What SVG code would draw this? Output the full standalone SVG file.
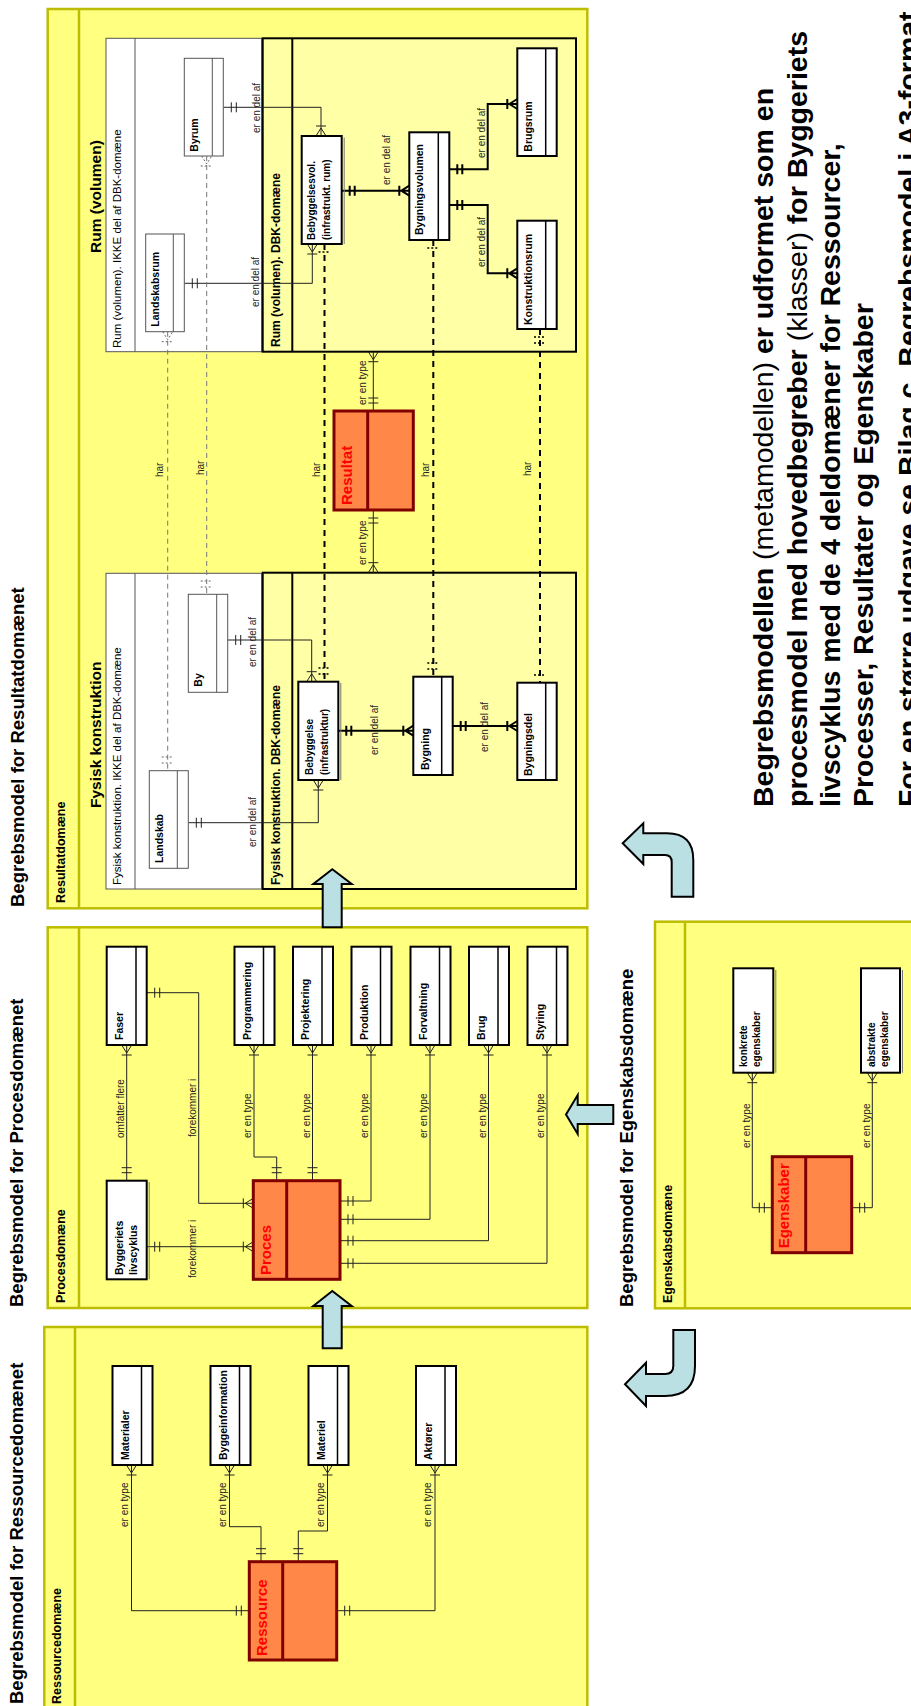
<svg xmlns="http://www.w3.org/2000/svg" width="911" height="1706" viewBox="0 0 911 1706">
<defs>
<style>
text{font-family:"Liberation Sans",Arial,sans-serif;fill:#000}
.panel{fill:#FFFF80;stroke:#BDBD00;stroke-width:2.5}
.sep{stroke:#BDBD00;stroke-width:2.5;fill:none}
.ikke{fill:#fff;stroke:#555;stroke-width:1}
.ikkesep{stroke:#555;stroke-width:1;fill:none}
.dbk{fill:#FFFFA6;stroke:#000;stroke-width:2}
.dbksep{stroke:#000;stroke-width:2;fill:none}
.ent{fill:#fff;stroke:#000;stroke-width:2}
.entg{fill:#fff;stroke:#555;stroke-width:1}
.div{stroke:#000;stroke-width:1.5;fill:none}
.divg{stroke:#555;stroke-width:1;fill:none}
.shad{stroke:#777;stroke-width:1;fill:none}
.core{fill:#FF8848;stroke:#800000;stroke-width:3}
.corediv{stroke:#800000;stroke-width:3;fill:none}
.c1{fill:none;stroke:#222;stroke-width:1}
.c2{fill:none;stroke:#000;stroke-width:2}
.d1{fill:none;stroke:#777;stroke-width:1;stroke-dasharray:5 4}
.d2{fill:none;stroke:#000;stroke-width:2;stroke-dasharray:6 5}
.mk{fill:none;stroke:#000;stroke-width:1.5;stroke-dasharray:2 2}
.mkg{fill:none;stroke:#666;stroke-width:1;stroke-dasharray:2 2}
.arrow{fill:#BBE0E3;stroke:#000;stroke-width:2;stroke-linejoin:miter}
.title{font-size:18.5px;font-weight:bold}
.dom{font-size:12.5px;font-weight:bold}
.sec{font-size:15.5px;font-weight:bold}
.sub{font-size:11.5px}
.subb{font-size:12px;font-weight:bold}
.nl{font-size:10.5px;font-weight:bold}
.ns{font-size:10px;font-weight:bold}
.big{font-size:15px;font-weight:bold;fill:#FF0000}
.lbl{font-size:10px;fill:#222}
.side{font-size:28.5px;font-weight:bold}
</style>
</defs>
<rect width="911" height="1706" fill="#fff"/>

<!-- Panels -->
<g id="panel-ressource">
<rect class="panel" x="44.3" y="1327" width="543" height="400"/>
<path class="sep" d="M75,1327 V1710"/>
<text class="dom" transform="translate(61,1704) rotate(-90)">Ressourcedomæne</text>
</g>
<g id="panel-proces">
<rect class="panel" x="47.7" y="927.3" width="539.6" height="380.7"/>
<path class="sep" d="M79,927.3 V1308"/>
<text class="dom" transform="translate(65,1303) rotate(-90)">Procesdomæne</text>
</g>
<g id="panel-resultat">
<rect class="panel" x="47.7" y="9" width="539.6" height="899.3"/>
<path class="sep" d="M79,9 V908.3"/>
<text class="dom" transform="translate(65,903) rotate(-90)">Resultatdomæne</text>
</g>
<g id="panel-egenskab">
<rect class="panel" x="655" y="921.7" width="270" height="386.6"/>
<path class="sep" d="M685,921.7 V1308.3"/>
<text class="dom" transform="translate(672,1303) rotate(-90)">Egenskabsdomæne</text>
</g>

<!-- Titles -->
<g id="titles">
<text class="title" transform="translate(23,1704) rotate(-90)">Begrebsmodel for Ressourcedomænet</text>
<text class="title" transform="translate(23,1307) rotate(-90)">Begrebsmodel for Procesdomænet</text>
<text class="title" transform="translate(24,907) rotate(-90)">Begrebsmodel for Resultatdomænet</text>
<text class="title" transform="translate(633,1307) rotate(-90)">Begrebsmodel for Egenskabsdomæne</text>
</g>

<!-- Sub frames in Resultat -->
<g id="frame-fysisk-ikke">
<rect class="ikke" x="106" y="573.3" width="155.7" height="315.7"/>
<path class="ikkesep" d="M135,573.3 V889"/>
<text class="sub" transform="translate(121,885) rotate(-90)">Fysisk konstruktion. IKKE del af DBK-domæne</text>
</g>
<g id="frame-fysisk-dbk">
<rect class="dbk" x="262.7" y="572.7" width="313.3" height="316.3"/>
<path class="dbksep" d="M292.3,572.7 V889"/>
<text class="subb" transform="translate(280,885) rotate(-90)">Fysisk konstruktion. DBK-domæne</text>
</g>
<text class="sec" transform="translate(101,808) rotate(-90)">Fysisk konstruktion</text>
<g id="frame-rum-ikke">
<rect class="ikke" x="106" y="38.3" width="155.7" height="313.4"/>
<path class="ikkesep" d="M135,38.3 V351.7"/>
<text class="sub" transform="translate(121,348) rotate(-90)">Rum (volumen). IKKE del af DBK-domæne</text>
</g>
<g id="frame-rum-dbk">
<rect class="dbk" x="262.7" y="38.3" width="313.3" height="313.4"/>
<path class="dbksep" d="M292.3,38.3 V351.7"/>
<text class="subb" transform="translate(280,347) rotate(-90)">Rum (volumen). DBK-domæne</text>
</g>
<text class="sec" transform="translate(101,253) rotate(-90)">Rum (volumen)</text>

<!-- Connectors -->
<g id="connectors">
<!-- Ressource -->
<path class="c1" d="M131.5,1465 V1610.7 H249.3 M126.5,1465 L131.5,1473 L136.5,1465 M126.5,1475 H136.5 M241.3,1605.7 V1615.7 M236.3,1605.7 V1615.7"/>
<path class="c1" d="M229.5,1465 V1526.7 H261 V1561.7 M224.5,1465 L229.5,1473 L234.5,1465 M224.5,1475 H234.5 M256,1553.7 H266 M256,1548.7 H266"/>
<path class="c1" d="M327.5,1465 V1531 H298.3 V1561.7 M322.5,1465 L327.5,1473 L332.5,1465 M322.5,1475 H332.5 M293.3,1553.7 H303.3 M293.3,1548.7 H303.3"/>
<path class="c1" d="M435,1465 V1610.7 H336.7 M430,1465 L435,1473 L440,1465 M430,1475 H440 M344.7,1605.7 V1615.7 M349.7,1605.7 V1615.7"/>
<text class="lbl" transform="translate(127.5,1527) rotate(-90)">er en type</text>
<text class="lbl" transform="translate(225.5,1527) rotate(-90)">er en type</text>
<text class="lbl" transform="translate(323.5,1527) rotate(-90)">er en type</text>
<text class="lbl" transform="translate(431,1527) rotate(-90)">er en type</text>
<!-- Proces -->
<path class="c1" d="M126.7,1045 V1180.7 M121.7,1045 L126.7,1053 L131.7,1045 M121.7,1055 H131.7 M121.7,1172.7 H131.7 M121.7,1167.7 H131.7"/>
<path class="c1" d="M146.7,992.7 H198.7 V1203.3 H253.3 M154.7,987.7 V997.7 M159.7,987.7 V997.7 M253.3,1198.3 L245.3,1203.3 L253.3,1208.3 M243.3,1198.3 V1208.3"/>
<path class="c1" d="M146.7,1246.7 H253.3 M154.7,1241.7 V1251.7 M159.7,1241.7 V1251.7 M253.3,1241.7 L245.3,1246.7 L253.3,1251.7 M243.3,1241.7 V1251.7"/>
<path class="c1" d="M254,1045 V1157 H276.7 V1180.7 M249,1045 L254,1053 L259,1045 M249,1055 H259 M271.7,1172.7 H281.7 M271.7,1167.7 H281.7"/>
<path class="c1" d="M312.5,1045 V1180.7 M307.5,1045 L312.5,1053 L317.5,1045 M307.5,1055 H317.5 M307.5,1172.7 H317.5 M307.5,1167.7 H317.5"/>
<path class="c1" d="M371,1045 V1201 H340 M366,1045 L371,1053 L376,1045 M366,1055 H376 M348,1196 V1206 M353,1196 V1206"/>
<path class="c1" d="M430,1045 V1219.3 H340 M425,1045 L430,1053 L435,1045 M425,1055 H435 M348,1214.3 V1224.3 M353,1214.3 V1224.3"/>
<path class="c1" d="M488.5,1045 V1240.7 H340 M483.5,1045 L488.5,1053 L493.5,1045 M483.5,1055 H493.5 M348,1235.7 V1245.7 M353,1235.7 V1245.7"/>
<path class="c1" d="M547,1045 V1263.3 H340 M542,1045 L547,1053 L552,1045 M542,1055 H552 M348,1258.3 V1268.3 M353,1258.3 V1268.3"/>
<text class="lbl" transform="translate(124,1138) rotate(-90)">omfatter flere</text>
<text class="lbl" transform="translate(196,1137) rotate(-90)">forekommer  i</text>
<text class="lbl" transform="translate(196,1278) rotate(-90)">forekommer  i</text>
<text class="lbl" transform="translate(251,1138) rotate(-90)">er en type</text>
<text class="lbl" transform="translate(309.5,1138) rotate(-90)">er en type</text>
<text class="lbl" transform="translate(368,1138) rotate(-90)">er en type</text>
<text class="lbl" transform="translate(427,1138) rotate(-90)">er en type</text>
<text class="lbl" transform="translate(485.5,1138) rotate(-90)">er en type</text>
<text class="lbl" transform="translate(544,1138) rotate(-90)">er en type</text>
<!-- Resultat: thin -->
<path class="c1" d="M227.7,640 H311.7 V681.7 M235.7,635 V645 M240.7,635 V645 M306.7,681.7 L311.7,673.7 L316.7,681.7 M306.7,671.7 H316.7"/>
<path class="c1" d="M188.3,822.7 H318.3 V780 M196.3,817.7 V827.7 M201.3,817.7 V827.7 M313.3,780 L318.3,788 L323.3,780 M313.3,790 H323.3"/>
<path class="c1" d="M184.3,283.3 H312.3 V244 M192.3,278.3 V288.3 M197.3,278.3 V288.3 M307.3,244 L312.3,252 L317.3,244 M307.3,254 H317.3"/>
<path class="c1" d="M223.3,107.3 H321 V136 M231.3,102.3 V112.3 M236.3,102.3 V112.3 M316,136 L321,128 L326,136 M316,126 H326"/>
<!-- Resultat: thick -->
<path class="c2" d="M338.3,730.7 H413.3 M346.3,725.7 V735.7 M351.3,725.7 V735.7 M413.3,725.7 L405.3,730.7 L413.3,735.7 M403.3,725.7 V735.7"/>
<path class="c2" d="M452.7,726 H517.3 M460.7,721 V731 M465.7,721 V731 M517.3,721 L509.3,726 L517.3,731 M507.3,721 V731"/>
<path class="c1" d="M373.3,510 V572.7 M368.3,518 H378.3 M368.3,523 H378.3 M368.3,572.7 L373.3,564.7 L378.3,572.7 M368.3,562.7 H378.3"/>
<path class="c1" d="M373.3,411 V351.7 M368.3,403 H378.3 M368.3,398 H378.3 M368.3,351.7 L373.3,359.7 L378.3,351.7 M368.3,361.7 H378.3"/>
<path class="c2" d="M341.7,190.7 H409.3 M349.7,185.7 V195.7 M354.7,185.7 V195.7 M409.3,185.7 L401.3,190.7 L409.3,195.7 M399.3,185.7 V195.7"/>
<path class="c2" d="M449.3,169.3 H487.7 V104 H517.3 M457.3,164.3 V174.3 M462.3,164.3 V174.3 M517.3,99 L509.3,104 L517.3,109 M507.3,99 V109"/>
<path class="c2" d="M449.3,205 H487.7 V273.3 H517.3 M457.3,200 V210 M462.3,200 V210 M517.3,268.3 L509.3,273.3 L517.3,278.3 M507.3,268.3 V278.3"/>
<!-- dashed "har" -->
<path class="d1" d="M167.7,331.7 V770.7"/>
<path class="d1" d="M206.7,156 V594.3"/>
<path class="d2" d="M324.5,244 V681.7"/>
<path class="d2" d="M433.3,240 V676.7"/>
<path class="d2" d="M540,329 V682.7"/>
<path class="mkg" d="M161.7,763 H173.7 M161.7,757 H173.7 M162.7,331.7 L167.7,339.7 L172.7,331.7 M161.7,341.7 H173.7"/>
<path class="mkg" d="M200.7,587 H212.7 M200.7,581 H212.7 M201.7,156 L206.7,164 L211.7,156 M200.7,166 H212.7"/>
<path class="mk" d="M318.5,674 H330.5 M318.5,668 H330.5 M318.5,252 H330.5"/>
<path class="mk" d="M427.3,669 H439.3 M427.3,663 H439.3 M427.3,248 H439.3"/>
<path class="mk" d="M534,675 H546 M534,337 H546 M534,343 H546"/>
<text class="lbl" transform="translate(163,477) rotate(-90)">har</text>
<text class="lbl" transform="translate(204,475) rotate(-90)">har</text>
<text class="lbl" transform="translate(320,477) rotate(-90)">har</text>
<text class="lbl" transform="translate(428.5,477) rotate(-90)">har</text>
<text class="lbl" transform="translate(530.5,476) rotate(-90)">har</text>
<text class="lbl" transform="translate(256,667) rotate(-90)">er en del af</text>
<text class="lbl" transform="translate(256,847) rotate(-90)">er en del af</text>
<text class="lbl" transform="translate(378,755) rotate(-90)">er en del af</text>
<text class="lbl" transform="translate(488,752) rotate(-90)">er en del af</text>
<text class="lbl" transform="translate(366,565) rotate(-90)">er en type</text>
<text class="lbl" transform="translate(366,405) rotate(-90)">er en type</text>
<text class="lbl" transform="translate(259,307) rotate(-90)">er en del af</text>
<text class="lbl" transform="translate(260,133) rotate(-90)">er en del af</text>
<text class="lbl" transform="translate(390,185) rotate(-90)">er en del af</text>
<text class="lbl" transform="translate(485,158) rotate(-90)">er en del af</text>
<text class="lbl" transform="translate(485,267) rotate(-90)">er en del af</text>
<!-- Egenskab -->
<path class="c1" d="M752.3,1072.7 V1207.7 H772.3 M747.3,1072.7 L752.3,1080.7 L757.3,1072.7 M747.3,1082.7 H757.3 M764.3,1202.7 V1212.7 M759.3,1202.7 V1212.7"/>
<path class="c1" d="M872.3,1072.7 V1207.7 H851.7 M867.3,1072.7 L872.3,1080.7 L877.3,1072.7 M867.3,1082.7 H877.3 M859.7,1202.7 V1212.7 M864.7,1202.7 V1212.7"/>
<text class="lbl" transform="translate(749.5,1148) rotate(-90)">er en type</text>
<text class="lbl" transform="translate(869.5,1148) rotate(-90)">er en type</text>
</g>

<!-- Ressource nodes -->
<g id="n-materialer"><rect class="ent" x="112.5" y="1366" width="40" height="99"/><path class="div" d="M141.5,1366 V1465"/><text class="nl" transform="translate(128.5,1460) rotate(-90)">Materialer</text></g>
<g id="n-byggeinformation"><rect class="ent" x="210.5" y="1366" width="40" height="99"/><path class="div" d="M239.5,1366 V1465"/><text class="nl" transform="translate(226.5,1460) rotate(-90)">Byggeinformation</text></g>
<g id="n-materiel"><rect class="ent" x="308.5" y="1366" width="40" height="99"/><path class="div" d="M337.5,1366 V1465"/><text class="nl" transform="translate(324.5,1460) rotate(-90)">Materiel</text></g>
<g id="n-aktoerer"><rect class="ent" x="416" y="1366" width="40" height="99"/><path class="div" d="M445,1366 V1465"/><text class="nl" transform="translate(432,1460) rotate(-90)">Aktører</text></g>
<g id="n-ressource"><rect class="core" x="249.3" y="1561.7" width="87.4" height="98.3"/><path class="corediv" d="M282.7,1561.7 V1660"/><text class="big" transform="translate(267,1656) rotate(-90)">Ressource</text></g>

<!-- Proces nodes -->
<g id="n-faser"><rect class="ent" x="106.7" y="946.7" width="40" height="98.3"/><path class="div" d="M136,946.7 V1045"/><text class="nl" transform="translate(122.7,1040) rotate(-90)">Faser</text></g>
<g id="n-programmering"><rect class="ent" x="234.5" y="946.7" width="40" height="98.3"/><path class="div" d="M263.5,946.7 V1045"/><text class="nl" transform="translate(250.5,1040) rotate(-90)">Programmering</text></g>
<g id="n-projektering"><rect class="ent" x="293" y="946.7" width="40" height="98.3"/><path class="div" d="M322,946.7 V1045"/><text class="nl" transform="translate(309,1040) rotate(-90)">Projektering</text></g>
<g id="n-produktion"><rect class="ent" x="351.5" y="946.7" width="40" height="98.3"/><path class="div" d="M380.5,946.7 V1045"/><text class="nl" transform="translate(367.5,1040) rotate(-90)">Produktion</text></g>
<g id="n-forvaltning"><rect class="ent" x="410.5" y="946.7" width="40" height="98.3"/><path class="div" d="M439.5,946.7 V1045"/><text class="nl" transform="translate(426.5,1040) rotate(-90)">Forvaltning</text></g>
<g id="n-brug"><rect class="ent" x="469" y="946.7" width="40" height="98.3"/><path class="div" d="M498,946.7 V1045"/><text class="nl" transform="translate(485,1040) rotate(-90)">Brug</text></g>
<g id="n-styring"><rect class="ent" x="527.5" y="946.7" width="40" height="98.3"/><path class="div" d="M556.5,946.7 V1045"/><text class="nl" transform="translate(543.5,1040) rotate(-90)">Styring</text></g>
<g id="n-byggeriets-livscyklus"><rect class="ent" x="106.7" y="1180.7" width="40" height="98.6"/><path class="shad" d="M149.2,1182 V1279.3"/><text class="nl" transform="translate(123.3,1275) rotate(-90)">Byggeriets</text><text class="nl" transform="translate(137,1275) rotate(-90)">livscyklus</text></g>
<g id="n-proces"><rect class="core" x="253.3" y="1180.7" width="86.7" height="98.6"/><path class="corediv" d="M286.7,1180.7 V1279.3"/><text class="big" transform="translate(271,1275) rotate(-90)">Proces</text></g>

<!-- Resultat nodes -->
<g id="n-landskab"><rect class="entg" x="149.3" y="770.7" width="39" height="97.6"/><path class="divg" d="M177.3,770.7 V868.3"/><text class="nl" transform="translate(163.3,863) rotate(-90)">Landskab</text></g>
<g id="n-by"><rect class="entg" x="188.3" y="594.3" width="39.4" height="98"/><path class="divg" d="M216.7,594.3 V692.3"/><text class="nl" transform="translate(201.7,686.7) rotate(-90)">By</text></g>
<g id="n-bebyggelse"><rect class="ent" x="298.3" y="681.7" width="40" height="98.3"/><path class="shad" d="M340.8,683 V780"/><text class="ns" transform="translate(313.3,775) rotate(-90)">Bebyggelse</text><text class="ns" transform="translate(328.3,775) rotate(-90)">(infrastruktur)</text></g>
<g id="n-bygning"><rect class="ent" x="413.3" y="676.7" width="39.4" height="98.3"/><path class="div" d="M441.7,676.7 V775"/><text class="nl" transform="translate(429.3,770) rotate(-90)">Bygning</text></g>
<g id="n-bygningsdel"><rect class="ent" x="517.3" y="682.7" width="39.4" height="97.3"/><path class="div" d="M545.7,682.7 V780"/><text class="nl" transform="translate(531.7,776) rotate(-90)">Bygningsdel</text></g>
<g id="n-resultat"><rect class="core" x="334" y="411" width="79.3" height="99"/><path class="corediv" d="M367.7,411 V510"/><text class="big" transform="translate(351.7,505) rotate(-90)">Resultat</text></g>
<g id="n-landskabsrum"><rect class="entg" x="145.7" y="234" width="38.6" height="97.7"/><path class="divg" d="M173.3,234 V331.7"/><text class="nl" transform="translate(159.3,326.7) rotate(-90)">Landskabsrum</text></g>
<g id="n-byrum"><rect class="entg" x="184.3" y="58.3" width="39" height="97.7"/><path class="divg" d="M212.3,58.3 V156"/><text class="nl" transform="translate(198.3,151.7) rotate(-90)">Byrum</text></g>
<g id="n-bebyggelsesvol"><rect class="ent" x="301.7" y="136" width="40" height="108"/><path class="shad" d="M344.2,137.5 V244"/><text class="ns" transform="translate(315,240) rotate(-90)">Bebyggelsesvol.</text><text class="ns" transform="translate(330,240) rotate(-90)">(infrastrukt. rum)</text></g>
<g id="n-bygningsvolumen"><rect class="ent" x="409.3" y="132.3" width="40" height="107.7"/><path class="div" d="M438.3,132.3 V240"/><text class="nl" transform="translate(423.3,235) rotate(-90)">Bygningsvolumen</text></g>
<g id="n-brugsrum"><rect class="ent" x="517.3" y="48.3" width="39.4" height="107.7"/><path class="div" d="M545.7,48.3 V156"/><text class="nl" transform="translate(531.7,151.7) rotate(-90)">Brugsrum</text></g>
<g id="n-konstruktionsrum"><rect class="ent" x="517.3" y="220.7" width="39.4" height="108.3"/><path class="div" d="M545.7,220.7 V329"/><text class="nl" transform="translate(531.7,325) rotate(-90)">Konstruktionsrum</text></g>

<!-- Egenskab nodes -->
<g id="n-egenskaber"><rect class="core" x="772.3" y="1156.7" width="79.4" height="96"/><path class="corediv" d="M805.7,1156.7 V1252.7"/><text class="big" transform="translate(789.3,1248.3) rotate(-90)">Egenskaber</text></g>
<g id="n-konkrete"><rect class="ent" x="733.3" y="968.3" width="40" height="104.4"/><path class="shad" d="M775.8,970 V1072.7"/><text class="ns" transform="translate(746.7,1067) rotate(-90)">konkrete</text><text class="ns" transform="translate(760,1067) rotate(-90)">egenskaber</text></g>
<g id="n-abstrakte"><rect class="ent" x="861" y="968.3" width="39" height="104.4"/><path class="shad" d="M902.5,970 V1072.7"/><text class="ns" transform="translate(874.5,1067) rotate(-90)">abstrakte</text><text class="ns" transform="translate(887.8,1067) rotate(-90)">egenskaber</text></g>

<!-- Blue arrows -->
<g id="arrows">
<polygon class="arrow" points="332.3,869.3 351.7,884 341.7,884 341.7,927.3 322.7,927.3 322.7,884 313.3,884"/>
<polygon class="arrow" points="332.3,1291 351.7,1306 341.7,1306 341.7,1348.3 322.7,1348.3 322.7,1306 313.3,1306"/>
<polygon class="arrow" points="566,1114.5 577.7,1095 577.7,1105 613.3,1105 613.3,1124 577.7,1124 577.7,1134"/>
<path class="arrow" d="M622.7,843.3 L643.3,823.3 L643.3,833.3 L667,833.3 Q693.3,833.3 693.3,860 L693.3,896.7 L671.7,896.7 L671.7,862 Q671.7,855 665,855 L643.3,855 L643.3,864 Z"/>
<path class="arrow" d="M695,1330 L695,1366 Q695,1396 665,1396 L646,1396 L646,1406 L625,1384.3 L646,1362.7 L646,1374 L665,1374 Q673.3,1374 673.3,1366 L673.3,1330 Z"/>
</g>

<!-- Side text -->
<g id="side-text">
<text class="side" transform="translate(773.3,807) rotate(-90)">Begrebsmodellen<tspan font-weight="normal"> (metamodellen) </tspan>er udformet som en</text>
<text class="side" transform="translate(806.6,807) rotate(-90)">procesmodel med hovedbegreber <tspan font-weight="normal">(klasser)</tspan> for Byggeriets</text>
<text class="side" transform="translate(840,807) rotate(-90)">livscyklus med de 4 deldomæner for Ressourcer,</text>
<text class="side" transform="translate(873.3,807) rotate(-90)">Processer, Resultater og Egenskaber</text>
<text class="side" transform="translate(918,807) rotate(-90)">For en større udgave se Bilag c. Begrebsmodel i A3-format</text>
</g>
</svg>
